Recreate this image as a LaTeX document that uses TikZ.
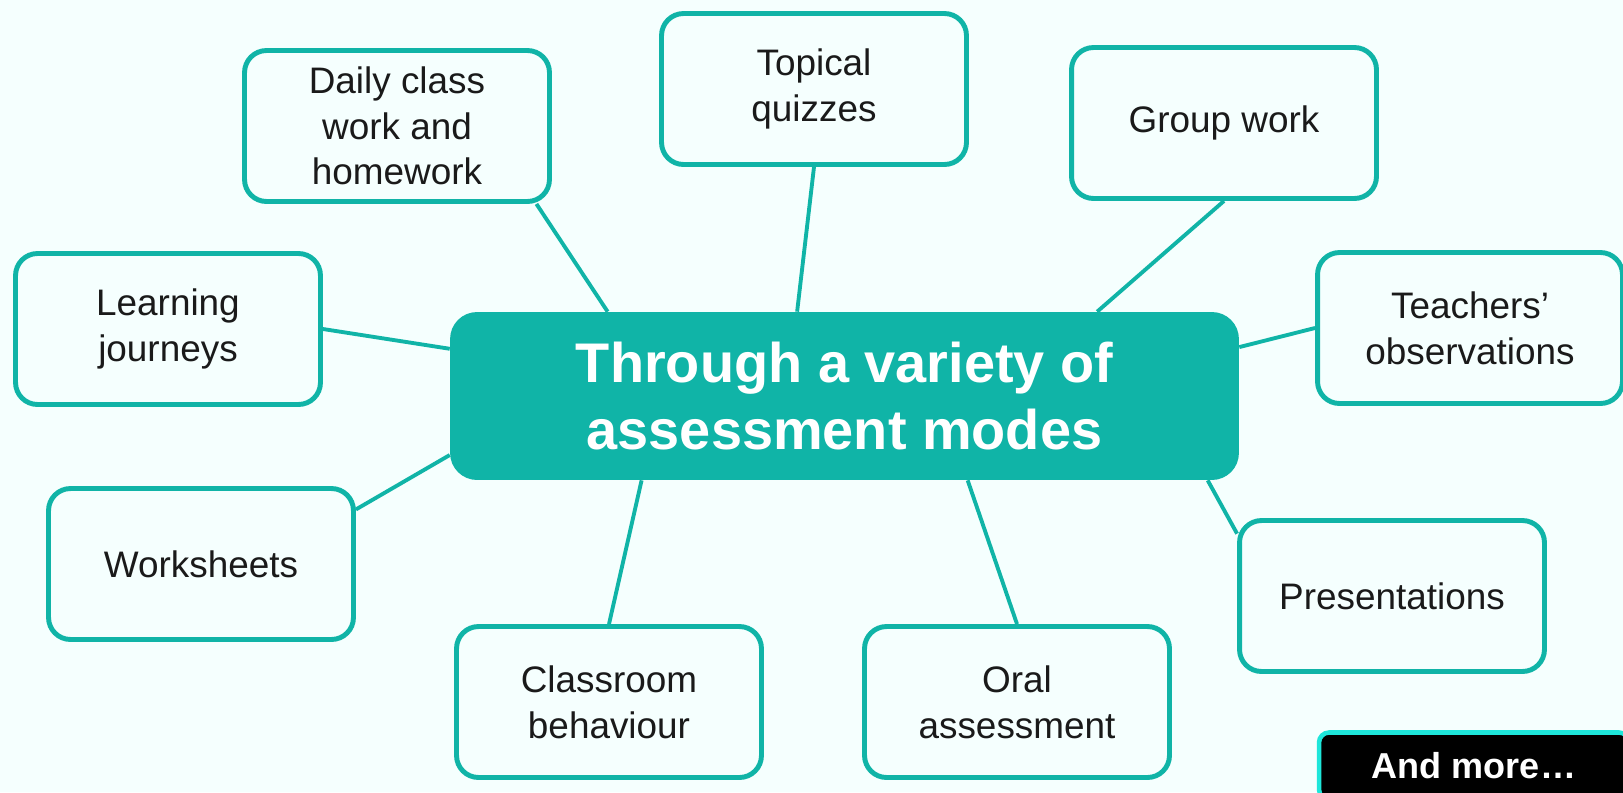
\documentclass[tikz,border=0pt]{standalone}
\usepackage{fontspec}
\setmainfont{Liberation Sans}
\usetikzlibrary{calc}
\definecolor{mapteal}{HTML}{10B4A7}
\definecolor{mapbg}{HTML}{F5FFFE}
\definecolor{mapink}{HTML}{1A1A1A}
\definecolor{morecyan}{HTML}{1EE6DA}
\begin{document}
\begin{tikzpicture}[
        x=0.02cm, y=-0.02cm,
        leaf/.style={draw=mapteal, fill=mapbg, line width=2.8pt, rounded corners=0.44cm,
            minimum width=6.1cm, minimum height=3.02cm, align=center, text=mapink,
            font=\fontsize{21}{26}\selectfont},
        hub/.style={fill=mapteal, rounded corners=0.54cm, minimum width=15.78cm,
            minimum height=3.36cm, align=center, text=white,
            font=\bfseries\fontsize{31.8}{38}\selectfont},
        more/.style={draw=morecyan, fill=black, line width=2.6pt, rounded corners=0.2cm,
            minimum width=6.2cm, minimum height=1.34cm, text=white,
            font=\bfseries\fontsize{20.5}{24}\selectfont},
        link/.style={draw=mapteal, line width=2.2pt}
    ]
        \fill[mapbg] (0,0) rectangle (1623,792);
        \useasboundingbox (0,0) rectangle (1623,792);
        \node[hub] (hub) at (844.5,396) {Through a variety of\\assessment modes};
        \node[leaf] (daily) at (397,126) {Daily class\\work and\\homework};
        \node[leaf] (quiz) at (814,89) {Topical\\quizzes};
        \node[leaf] (group) at (1224,123) {Group work};
        \node[leaf] (learn) at (168,329) {Learning\\journeys};
        \node[leaf] (teach) at (1470,328) {Teachers’\\observations};
        \node[leaf] (work) at (201,564) {Worksheets};
        \node[leaf] (pres) at (1392,596) {Presentations};
        \node[leaf] (class) at (609,702) {Classroom\\behaviour};
        \node[leaf] (oral) at (1017,702) {Oral\\assessment};
        \node[more] (more) at (1474,766) {And more…};
        \draw[link] ($(daily.south west)!.95!(daily.south east)$) -- ($(hub.north west)!.2!(hub.north east)$);
        \draw[link] (quiz.south) -- ($(hub.north west)!.44!(hub.north east)$);
        \draw[link] (group.south) -- ($(hub.north west)!.82!(hub.north east)$);
        \draw[link] (learn.east) -- ($(hub.north west)!.22!(hub.south west)$);
        \draw[link] (teach.west) -- ($(hub.north east)!.21!(hub.south east)$);
        \draw[link] ($(work.north east)!.15!(work.south east)$) -- ($(hub.north west)!.85!(hub.south west)$);
        \draw[link] ($(pres.north west)!.1!(pres.south west)$) -- ($(hub.south west)!.96!(hub.south east)$);
        \draw[link] (class.north) -- ($(hub.south west)!.243!(hub.south east)$);
        \draw[link] (oral.north) -- ($(hub.south west)!.656!(hub.south east)$);
    \end{tikzpicture}
\end{document}
